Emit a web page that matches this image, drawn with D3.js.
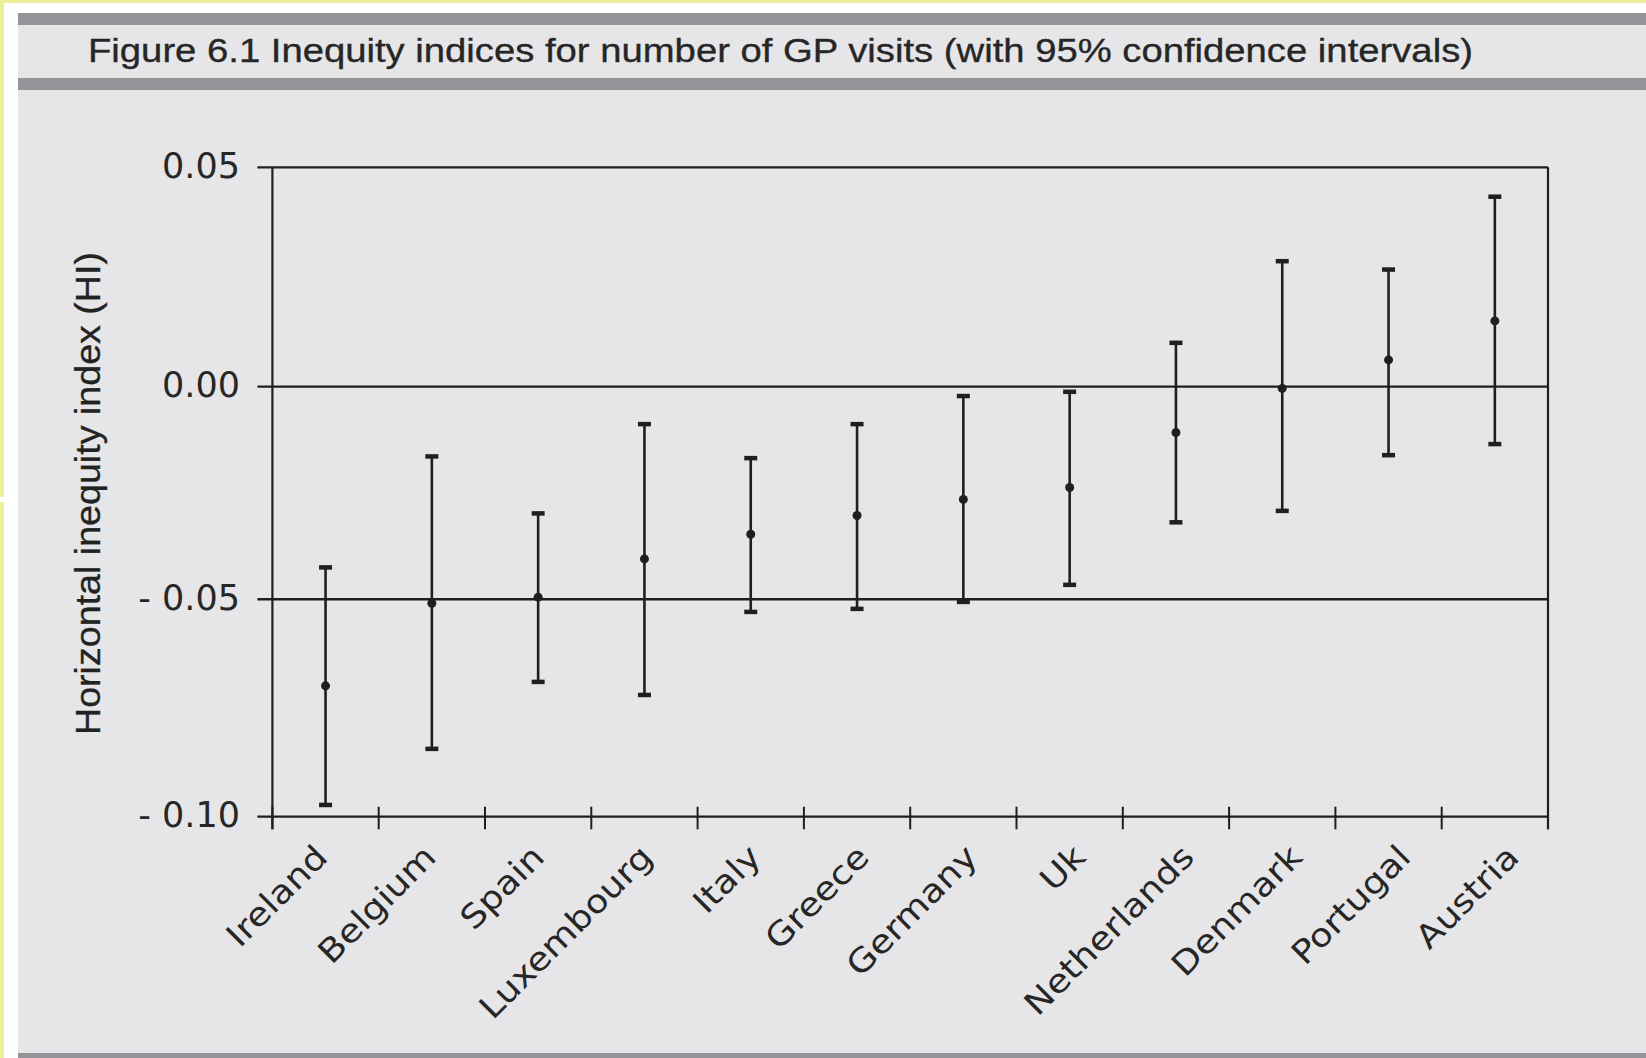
<!DOCTYPE html>
<html>
<head>
<meta charset="utf-8">
<script src="https://cdn.jsdelivr.net/npm/d3@7"></script>
<style>
  html, body { margin: 0; padding: 0; background: #ffffff; }
  svg { display: block; }
</style>
</head>
<body>
<svg id="chart" width="1646" height="1058"></svg>
<script>
// ---- data ----
const countries = ["Ireland", "Belgium", "Spain", "Luxembourg", "Italy", "Greece",
                   "Germany", "Uk", "Netherlands", "Denmark", "Portugal", "Austria"];
const hiValues = [-0.0699, -0.0509, -0.0495, -0.0405, -0.0347, -0.0303,
                  -0.0265, -0.0237, -0.0108, -0.0004, 0.0061, 0.0150];
const ciLower  = [-0.0973, -0.0844, -0.0690, -0.0720, -0.0529, -0.0522,
                  -0.0506, -0.0466, -0.0319, -0.0292, -0.0161, -0.0135];
const ciUpper  = [-0.0425, -0.0164, -0.0298, -0.0088, -0.0168, -0.0088,
                  -0.0022, -0.0012, 0.0100, 0.0286, 0.0267, 0.0433];
const yTickValues = [-0.10, -0.05, 0.00, 0.05];
const yTickLabels = ["- 0.10", "- 0.05", "0.00", "0.05"];
const titleText = "Figure 6.1 Inequity indices for number of GP visits (with 95% confidence intervals)";
const yAxisTitle = "Horizontal inequity index (HI)";

// ---- page frame ----
const W = 1646, H = 1058;
const svg = d3.select("#chart");
const ink = "#1f1f1f";

svg.append("rect").attr("x", 0).attr("y", 0).attr("width", W).attr("height", H).attr("fill", "#edf09b");
svg.append("rect").attr("x", 4).attr("y", 3).attr("width", W - 4).attr("height", H - 3).attr("fill", "#ffffff");
svg.append("rect").attr("x", 0).attr("y", 497).attr("width", 4).attr("height", 5).attr("fill", "#ffffff");
svg.append("rect").attr("x", 18).attr("y", 13).attr("width", W - 18).attr("height", H - 13).attr("fill", "#e6e6e8");
svg.append("rect").attr("x", 18).attr("y", 13).attr("width", W - 18).attr("height", 12).attr("fill", "#939598");
svg.append("rect").attr("x", 18).attr("y", 78).attr("width", W - 18).attr("height", 12).attr("fill", "#939598");
svg.append("rect").attr("x", 18).attr("y", 1053).attr("width", W - 18).attr("height", 5).attr("fill", "#939598");

// title
svg.append("text")
  .attr("x", 88).attr("y", 61.5)
  .attr("font-family", "'Liberation Sans', Arial, sans-serif")
  .attr("font-size", 34)
  .attr("fill", "#262626")
  .attr("stroke", "#262626").attr("stroke-width", 0.35)
  .attr("textLength", 1385)
  .attr("lengthAdjust", "spacingAndGlyphs")
  .text(titleText);

// ---- scales ----
const x0 = 272.4, x1 = 1548;
const x = d3.scaleBand().domain(countries).range([x0, x1]).paddingInner(0).paddingOuter(0);
// label anchors sit on a slightly wider band layout than the ticks
const xLabel = d3.scaleBand().domain(countries).range([x0 + 3, x1 + 27]).paddingInner(0).paddingOuter(0);
const y = d3.scaleLinear()
  .domain([-0.10, -0.05, 0.00, 0.05])
  .range([816.7, 599.3, 386.7, 167.3]);

const g = svg.append("g");

// horizontal reference lines (incl. top frame and bottom axis) with left ticks
g.selectAll("line.hgrid").data(yTickValues).join("line")
  .attr("class", "hgrid")
  .attr("x1", x0 - 15).attr("x2", x1)
  .attr("y1", d => y(d)).attr("y2", d => y(d))
  .attr("stroke", ink).attr("stroke-width", d => d === -0.05 ? 2.6 : 2.2);

// y tick labels
g.selectAll("text.ytick").data(yTickValues).join("text")
  .attr("class", "ytick")
  .attr("x", 240)
  .attr("y", d => y(d) - 2)
  .attr("dy", "0.35em")
  .attr("text-anchor", "end")
  .attr("font-family", "'DejaVu Sans', Verdana, sans-serif")
  .attr("font-size", 35)
  .attr("fill", "#262626")
  .text((d, i) => yTickLabels[i]);

// left axis and right frame
g.append("line").attr("x1", x0).attr("x2", x0).attr("y1", y(0.05)).attr("y2", y(-0.10) + 12.6)
  .attr("stroke", ink).attr("stroke-width", 2.2);
g.append("line").attr("x1", x1).attr("x2", x1).attr("y1", y(0.05)).attr("y2", y(-0.10) + 12.6)
  .attr("stroke", ink).attr("stroke-width", 2.2);

// x ticks at band edges
const tickXs = countries.map(c => x(c)).concat([x1]);
g.selectAll("line.xtick").data(tickXs).join("line")
  .attr("class", "xtick")
  .attr("x1", d => d).attr("x2", d => d)
  .attr("y1", y(-0.10) - 10).attr("y2", y(-0.10) + 12.6)
  .attr("stroke", ink).attr("stroke-width", 2);

// x labels
g.selectAll("text.xlab").data(countries).join("text")
  .attr("class", "xlab")
  .attr("transform", d => `translate(${xLabel(d) + xLabel.bandwidth() / 2},859) rotate(-45) scale(1.13,1)`)
  .attr("text-anchor", "end")
  .attr("font-family", "'DejaVu Sans', Verdana, sans-serif")
  .attr("font-size", 32.5)
  .attr("fill", "#262626")
  .text(d => d);

// y axis title
svg.append("text")
  .attr("transform", "translate(100,493.5) rotate(-90)")
  .attr("text-anchor", "middle")
  .attr("font-family", "'Liberation Sans', Arial, sans-serif")
  .attr("font-size", 34.5)
  .attr("fill", "#222")
  .attr("stroke", "#222").attr("stroke-width", 0.3)
  .attr("textLength", 483)
  .attr("lengthAdjust", "spacingAndGlyphs")
  .text(yAxisTitle);

// ---- error bars ----
const rows = countries.map((c, i) => ({ c, v: hiValues[i], lo: ciLower[i], hi: ciUpper[i] }));
const cx = d => x(d.c) + x.bandwidth() / 2;
const capW = 13, capH = 4.5;

const bars = g.selectAll("g.bar").data(rows).join("g").attr("class", "bar");
bars.append("line")
  .attr("x1", cx).attr("x2", cx)
  .attr("y1", d => y(d.hi)).attr("y2", d => y(d.lo))
  .attr("stroke", ink).attr("stroke-width", 2.6);
bars.append("rect")
  .attr("x", d => cx(d) - capW / 2).attr("y", d => y(d.hi) - capH / 2)
  .attr("width", capW).attr("height", capH).attr("fill", ink);
bars.append("rect")
  .attr("x", d => cx(d) - capW / 2).attr("y", d => y(d.lo) - capH / 2)
  .attr("width", capW).attr("height", capH).attr("fill", ink);
bars.append("circle")
  .attr("cx", cx).attr("cy", d => y(d.v)).attr("r", 4.5)
  .attr("fill", ink);
</script>
</body>
</html>
